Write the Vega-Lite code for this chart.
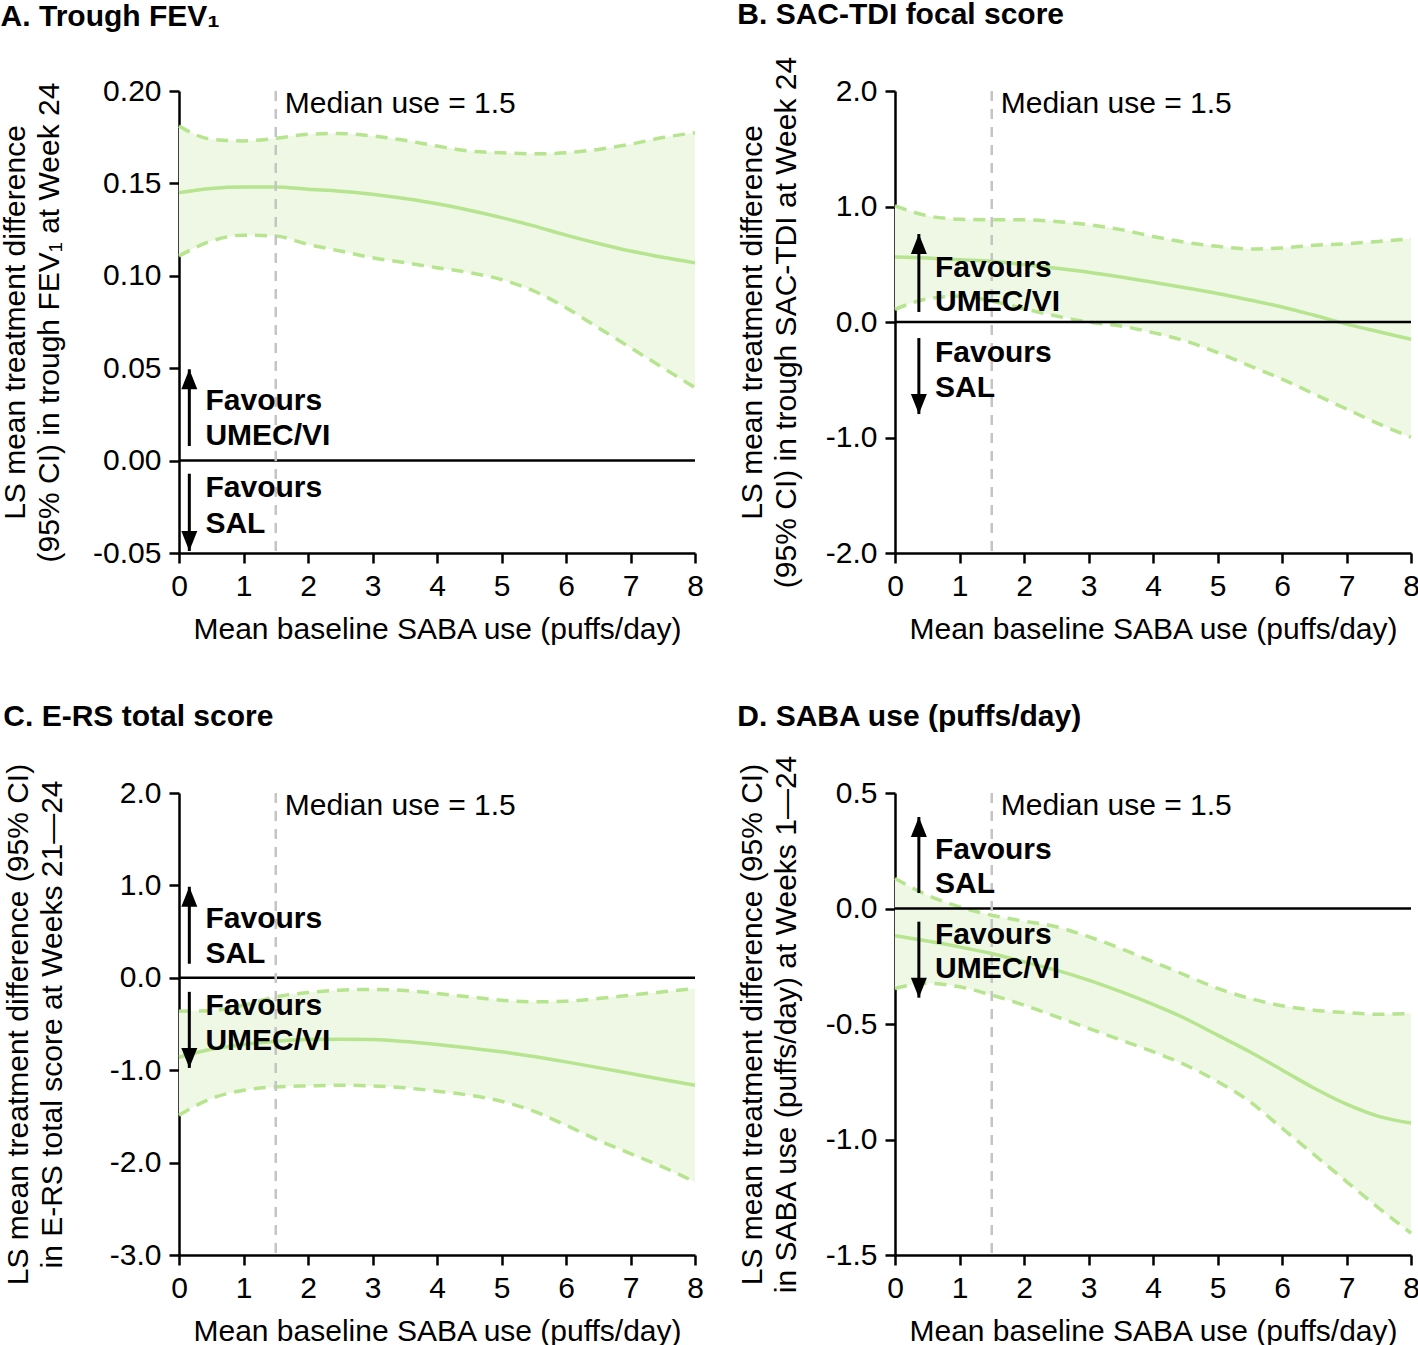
{
  "$schema": "https://vega.github.io/schema/vega-lite/v6.json",
  "padding": {"left": 0, "top": 0, "right": 0, "bottom": 0},
  "background": "white",
  "config": {
    "font": "Liberation Sans",
    "view": {"stroke": null},
    "title": {"anchor": "start", "frame": "bounds", "fontSize": 30, "font": "Liberation Sans", "fontWeight": "bold", "color": "black", "offset": 40},
    "axis": {"labelFont": "Liberation Sans", "labelFontSize": 30, "labelColor": "black", "titleFont": "Liberation Sans", "titleFontSize": 30, "titleFontWeight": "normal", "titleColor": "black", "domainColor": "black", "domainWidth": 2.5, "tickColor": "black", "tickWidth": 2.5, "tickSize": 10, "grid": false, "labelPadding": 8, "labelFlush": false, "labelOverlap": false},
    "axisX": {"titlePadding": 13, "format": "d"},
    "axisY": {"titlePadding": 28, "titleLineHeight": 34},
    "text": {"font": "Liberation Sans", "fontSize": 30, "color": "black"}
  },
  "datasets": {
    "curveA": [
      {"x": 0, "mean": 0.145, "lo": 0.1107, "hi": 0.181},
      {"x": 0.5, "mean": 0.1472, "lo": 0.1188, "hi": 0.1739},
      {"x": 1, "mean": 0.148, "lo": 0.122, "hi": 0.173},
      {"x": 1.5, "mean": 0.148, "lo": 0.1215, "hi": 0.1744},
      {"x": 2, "mean": 0.1468, "lo": 0.117, "hi": 0.1766},
      {"x": 2.5, "mean": 0.1458, "lo": 0.1134, "hi": 0.177},
      {"x": 3, "mean": 0.1441, "lo": 0.1098, "hi": 0.1757},
      {"x": 3.5, "mean": 0.1418, "lo": 0.1071, "hi": 0.1733},
      {"x": 4, "mean": 0.139, "lo": 0.1044, "hi": 0.1702},
      {"x": 4.5, "mean": 0.1355, "lo": 0.1017, "hi": 0.1675},
      {"x": 5, "mean": 0.1315, "lo": 0.098, "hi": 0.1666},
      {"x": 5.5, "mean": 0.127, "lo": 0.0918, "hi": 0.166},
      {"x": 6, "mean": 0.122, "lo": 0.0827, "hi": 0.1666},
      {"x": 6.5, "mean": 0.1175, "lo": 0.0719, "hi": 0.1684},
      {"x": 7, "mean": 0.1134, "lo": 0.0611, "hi": 0.1712},
      {"x": 7.5, "mean": 0.11, "lo": 0.0503, "hi": 0.1748},
      {"x": 8, "mean": 0.107, "lo": 0.0395, "hi": 0.1774}
    ],
    "curveB": [
      {"x": 0, "mean": 0.563, "lo": 0.109, "hi": 1.006},
      {"x": 0.5, "mean": 0.555, "lo": 0.2, "hi": 0.92},
      {"x": 1, "mean": 0.54, "lo": 0.224, "hi": 0.89},
      {"x": 1.5, "mean": 0.526, "lo": 0.181, "hi": 0.885},
      {"x": 2, "mean": 0.497, "lo": 0.115, "hi": 0.885},
      {"x": 2.5, "mean": 0.465, "lo": 0.052, "hi": 0.87},
      {"x": 3, "mean": 0.431, "lo": 0.0, "hi": 0.842},
      {"x": 3.5, "mean": 0.39, "lo": -0.034, "hi": 0.8},
      {"x": 4, "mean": 0.345, "lo": -0.092, "hi": 0.741},
      {"x": 4.5, "mean": 0.297, "lo": -0.164, "hi": 0.69},
      {"x": 5, "mean": 0.247, "lo": -0.264, "hi": 0.655},
      {"x": 5.5, "mean": 0.19, "lo": -0.379, "hi": 0.632},
      {"x": 6, "mean": 0.13, "lo": -0.494, "hi": 0.641},
      {"x": 6.5, "mean": 0.058, "lo": -0.624, "hi": 0.664},
      {"x": 7, "mean": -0.018, "lo": -0.753, "hi": 0.678},
      {"x": 7.5, "mean": -0.084, "lo": -0.882, "hi": 0.698},
      {"x": 8, "mean": -0.149, "lo": -0.997, "hi": 0.721}
    ],
    "curveC": [
      {"x": 0, "mean": -0.86, "lo": -1.487, "hi": -0.361},
      {"x": 0.5, "mean": -0.773, "lo": -1.307, "hi": -0.356},
      {"x": 1, "mean": -0.722, "lo": -1.217, "hi": -0.296},
      {"x": 1.5, "mean": -0.686, "lo": -1.181, "hi": -0.206},
      {"x": 2, "mean": -0.668, "lo": -1.17, "hi": -0.159},
      {"x": 2.5, "mean": -0.664, "lo": -1.162, "hi": -0.134},
      {"x": 3, "mean": -0.668, "lo": -1.17, "hi": -0.126},
      {"x": 3.5, "mean": -0.69, "lo": -1.191, "hi": -0.137},
      {"x": 4, "mean": -0.722, "lo": -1.227, "hi": -0.17},
      {"x": 4.5, "mean": -0.76, "lo": -1.271, "hi": -0.206},
      {"x": 5, "mean": -0.801, "lo": -1.336, "hi": -0.242},
      {"x": 5.5, "mean": -0.852, "lo": -1.444, "hi": -0.26},
      {"x": 6, "mean": -0.91, "lo": -1.596, "hi": -0.253},
      {"x": 6.5, "mean": -0.972, "lo": -1.758, "hi": -0.224},
      {"x": 7, "mean": -1.036, "lo": -1.903, "hi": -0.188},
      {"x": 7.5, "mean": -1.1, "lo": -2.047, "hi": -0.152},
      {"x": 8, "mean": -1.162, "lo": -2.209, "hi": -0.116}
    ],
    "curveD": [
      {"x": 0, "mean": -0.118, "lo": -0.346, "hi": 0.13},
      {"x": 0.5, "mean": -0.141, "lo": -0.324, "hi": 0.058},
      {"x": 1, "mean": -0.166, "lo": -0.339, "hi": 0.007},
      {"x": 1.5, "mean": -0.195, "lo": -0.375, "hi": -0.029},
      {"x": 2, "mean": -0.231, "lo": -0.418, "hi": -0.055},
      {"x": 2.5, "mean": -0.267, "lo": -0.468, "hi": -0.079},
      {"x": 3, "mean": -0.31, "lo": -0.519, "hi": -0.122},
      {"x": 3.5, "mean": -0.36, "lo": -0.569, "hi": -0.173},
      {"x": 4, "mean": -0.415, "lo": -0.62, "hi": -0.231},
      {"x": 4.5, "mean": -0.476, "lo": -0.677, "hi": -0.288},
      {"x": 5, "mean": -0.548, "lo": -0.749, "hi": -0.346},
      {"x": 5.5, "mean": -0.62, "lo": -0.836, "hi": -0.389},
      {"x": 6, "mean": -0.699, "lo": -0.951, "hi": -0.421},
      {"x": 6.5, "mean": -0.778, "lo": -1.066, "hi": -0.44},
      {"x": 7, "mean": -0.847, "lo": -1.182, "hi": -0.451},
      {"x": 7.5, "mean": -0.9, "lo": -1.297, "hi": -0.458},
      {"x": 8, "mean": -0.929, "lo": -1.405, "hi": -0.454}
    ],
    "arrA": [
      {"ax": 0.16, "y1": 0.0079, "y2": 0.0494, "dir": "up"},
      {"ax": 0.16, "y1": -0.0071, "y2": -0.0489, "dir": "down"}
    ],
    "arrB": [
      {"ax": 0.37, "y1": 0.087, "y2": 0.762, "dir": "up"},
      {"ax": 0.37, "y1": -0.139, "y2": -0.797, "dir": "down"}
    ],
    "arrC": [
      {"ax": 0.16, "y1": 0.152, "y2": 0.985, "dir": "up"},
      {"ax": 0.16, "y1": -0.152, "y2": -0.975, "dir": "down"}
    ],
    "arrD": [
      {"ax": 0.37, "y1": 0.067, "y2": 0.396, "dir": "up"},
      {"ax": 0.37, "y1": -0.057, "y2": -0.386, "dir": "down"}
    ],
    "txtA": [
      {"tx": 0.41, "ty": 0.0323, "label": "Favours"},
      {"tx": 0.41, "ty": 0.0133, "label": "UMEC/VI"},
      {"tx": 0.41, "ty": -0.0147, "label": "Favours"},
      {"tx": 0.41, "ty": -0.0341, "label": "SAL"}
    ],
    "txtB": [
      {"tx": 0.62, "ty": 0.468, "label": "Favours"},
      {"tx": 0.62, "ty": 0.173, "label": "UMEC/VI"},
      {"tx": 0.62, "ty": -0.268, "label": "Favours"},
      {"tx": 0.62, "ty": -0.571, "label": "SAL"}
    ],
    "txtC": [
      {"tx": 0.41, "ty": 0.636, "label": "Favours"},
      {"tx": 0.41, "ty": 0.258, "label": "SAL"},
      {"tx": 0.41, "ty": -0.305, "label": "Favours"},
      {"tx": 0.41, "ty": -0.684, "label": "UMEC/VI"}
    ],
    "txtD": [
      {"tx": 0.62, "ty": 0.253, "label": "Favours"},
      {"tx": 0.62, "ty": 0.106, "label": "SAL"},
      {"tx": 0.62, "ty": -0.115, "label": "Favours"},
      {"tx": 0.62, "ty": -0.263, "label": "UMEC/VI"}
    ]
  },
  "columns": 2,
  "spacing": {"row": 240, "column": 200},
  "bounds": "flush",
  "concat": [
    {
      "width": 516, "height": 462,
      "title": {"text": "A. Trough FEV₁", "dy": -4},
      "layer": [
        {"data": {"name": "curveA"}, "mark": {"type": "area", "color": "#eef8e5", "interpolate": "monotone"},
         "encoding": {
           "x": {"field": "x", "type": "quantitative", "scale": {"domain": [0, 8], "nice": false}, "axis": {"values": [0,1,2,3,4,5,6,7,8], "title": "Mean baseline SABA use (puffs/day)"}},
           "y": {"field": "lo", "type": "quantitative", "scale": {"domain": [-0.05, 0.2], "nice": false, "zero": false}, "axis": {"values": [-0.05, 0, 0.05, 0.1, 0.15, 0.2], "format": ".2f", "labelExpr": "replace(datum.label, '−', '-')", "titlePadding": 28, "title": ["LS mean treatment difference", "(95% CI) in trough FEV₁ at Week 24"]}},
           "y2": {"field": "hi"}}},
        {"data": {"name": "curveA"}, "mark": {"type": "line", "color": "#b6e48f", "strokeWidth": 3.5, "strokeDash": [12, 8], "interpolate": "monotone"},
         "encoding": {"x": {"field": "x", "type": "quantitative"}, "y": {"field": "lo", "type": "quantitative"}}},
        {"data": {"name": "curveA"}, "mark": {"type": "line", "color": "#b6e48f", "strokeWidth": 3.5, "strokeDash": [12, 8], "interpolate": "monotone"},
         "encoding": {"x": {"field": "x", "type": "quantitative"}, "y": {"field": "hi", "type": "quantitative"}}},
        {"data": {"name": "curveA"}, "mark": {"type": "line", "color": "#b6e48f", "strokeWidth": 3.5, "interpolate": "monotone"},
         "encoding": {"x": {"field": "x", "type": "quantitative"}, "y": {"field": "mean", "type": "quantitative"}}},
        {"data": {"values": [{}]}, "mark": {"type": "rule", "color": "black", "strokeWidth": 2.5}, "encoding": {"y": {"datum": 0}}},
        {"data": {"values": [{}]}, "mark": {"type": "rule", "color": "#c4c4c4", "strokeWidth": 2.5, "strokeDash": [10, 8]}, "encoding": {"x": {"datum": 1.5}}},
        {"data": {"values": [{}]}, "mark": {"type": "text", "align": "left", "baseline": "middle", "dx": 9, "dy": 13}, "encoding": {"x": {"datum": 1.5}, "y": {"datum": 0.2}, "text": {"value": "Median use = 1.5"}}},
        {"data": {"name": "arrA"}, "mark": {"type": "rule", "color": "black", "strokeWidth": 3}, "encoding": {"x": {"field": "ax", "type": "quantitative"}, "y": {"field": "y1", "type": "quantitative"}, "y2": {"field": "y2"}}},
        {"data": {"name": "arrA"}, "mark": {"type": "point", "filled": true, "opacity": 1, "color": "black", "size": 400},
         "encoding": {"x": {"field": "ax", "type": "quantitative"}, "y": {"field": "y2", "type": "quantitative"}, "shape": {"field": "dir", "type": "nominal", "scale": {"domain": ["up", "down"], "range": ["M-0.8,2L0.8,2L0,0Z", "M-0.8,-2L0.8,-2L0,0Z"]}, "legend": null}}},
        {"data": {"name": "txtA"}, "mark": {"type": "text", "align": "left", "baseline": "middle", "fontWeight": "bold"},
         "encoding": {"x": {"field": "tx", "type": "quantitative"}, "y": {"field": "ty", "type": "quantitative"}, "text": {"field": "label"}}}
      ]
    },
    {
      "width": 516, "height": 462,
      "title": {"text": "B. SAC-TDI focal score", "dy": 14},
      "layer": [
        {"data": {"name": "curveB"}, "mark": {"type": "area", "color": "#eef8e5", "interpolate": "monotone"},
         "encoding": {
           "x": {"field": "x", "type": "quantitative", "scale": {"domain": [0, 8], "nice": false}, "axis": {"values": [0,1,2,3,4,5,6,7,8], "title": "Mean baseline SABA use (puffs/day)"}},
           "y": {"field": "lo", "type": "quantitative", "scale": {"domain": [-2, 2], "nice": false, "zero": false}, "axis": {"values": [-2, -1, 0, 1, 2], "format": ".1f", "labelExpr": "replace(datum.label, '−', '-')", "titlePadding": 24, "title": ["LS mean treatment difference", "(95% CI) in trough SAC-TDI at Week 24"]}},
           "y2": {"field": "hi"}}},
        {"data": {"name": "curveB"}, "mark": {"type": "line", "color": "#b6e48f", "strokeWidth": 3.5, "strokeDash": [12, 8], "interpolate": "monotone"},
         "encoding": {"x": {"field": "x", "type": "quantitative"}, "y": {"field": "lo", "type": "quantitative"}}},
        {"data": {"name": "curveB"}, "mark": {"type": "line", "color": "#b6e48f", "strokeWidth": 3.5, "strokeDash": [12, 8], "interpolate": "monotone"},
         "encoding": {"x": {"field": "x", "type": "quantitative"}, "y": {"field": "hi", "type": "quantitative"}}},
        {"data": {"name": "curveB"}, "mark": {"type": "line", "color": "#b6e48f", "strokeWidth": 3.5, "interpolate": "monotone"},
         "encoding": {"x": {"field": "x", "type": "quantitative"}, "y": {"field": "mean", "type": "quantitative"}}},
        {"data": {"values": [{}]}, "mark": {"type": "rule", "color": "black", "strokeWidth": 2.5}, "encoding": {"y": {"datum": 0}}},
        {"data": {"values": [{}]}, "mark": {"type": "rule", "color": "#c4c4c4", "strokeWidth": 2.5, "strokeDash": [10, 8]}, "encoding": {"x": {"datum": 1.5}}},
        {"data": {"values": [{}]}, "mark": {"type": "text", "align": "left", "baseline": "middle", "dx": 9, "dy": 13}, "encoding": {"x": {"datum": 1.5}, "y": {"datum": 2}, "text": {"value": "Median use = 1.5"}}},
        {"data": {"name": "arrB"}, "mark": {"type": "rule", "color": "black", "strokeWidth": 3}, "encoding": {"x": {"field": "ax", "type": "quantitative"}, "y": {"field": "y1", "type": "quantitative"}, "y2": {"field": "y2"}}},
        {"data": {"name": "arrB"}, "mark": {"type": "point", "filled": true, "opacity": 1, "color": "black", "size": 400},
         "encoding": {"x": {"field": "ax", "type": "quantitative"}, "y": {"field": "y2", "type": "quantitative"}, "shape": {"field": "dir", "type": "nominal", "scale": {"domain": ["up", "down"], "range": ["M-0.8,2L0.8,2L0,0Z", "M-0.8,-2L0.8,-2L0,0Z"]}, "legend": null}}},
        {"data": {"name": "txtB"}, "mark": {"type": "text", "align": "left", "baseline": "middle", "fontWeight": "bold"},
         "encoding": {"x": {"field": "tx", "type": "quantitative"}, "y": {"field": "ty", "type": "quantitative"}, "text": {"field": "label"}}}
      ]
    },
    {
      "width": 516, "height": 462,
      "title": {"text": "C. E-RS total score", "dy": 9},
      "layer": [
        {"data": {"name": "curveC"}, "mark": {"type": "area", "color": "#eef8e5", "interpolate": "monotone"},
         "encoding": {
           "x": {"field": "x", "type": "quantitative", "scale": {"domain": [0, 8], "nice": false}, "axis": {"values": [0,1,2,3,4,5,6,7,8], "title": "Mean baseline SABA use (puffs/day)"}},
           "y": {"field": "lo", "type": "quantitative", "scale": {"domain": [-3, 2], "nice": false, "zero": false}, "axis": {"values": [-3, -2, -1, 0, 1, 2], "format": ".1f", "labelExpr": "replace(datum.label, '−', '-')", "titlePadding": 42, "title": ["LS mean treatment difference (95% CI)", "in E-RS total score at Weeks 21—24"]}},
           "y2": {"field": "hi"}}},
        {"data": {"name": "curveC"}, "mark": {"type": "line", "color": "#b6e48f", "strokeWidth": 3.5, "strokeDash": [12, 8], "interpolate": "monotone"},
         "encoding": {"x": {"field": "x", "type": "quantitative"}, "y": {"field": "lo", "type": "quantitative"}}},
        {"data": {"name": "curveC"}, "mark": {"type": "line", "color": "#b6e48f", "strokeWidth": 3.5, "strokeDash": [12, 8], "interpolate": "monotone"},
         "encoding": {"x": {"field": "x", "type": "quantitative"}, "y": {"field": "hi", "type": "quantitative"}}},
        {"data": {"name": "curveC"}, "mark": {"type": "line", "color": "#b6e48f", "strokeWidth": 3.5, "interpolate": "monotone"},
         "encoding": {"x": {"field": "x", "type": "quantitative"}, "y": {"field": "mean", "type": "quantitative"}}},
        {"data": {"values": [{}]}, "mark": {"type": "rule", "color": "black", "strokeWidth": 2.5}, "encoding": {"y": {"datum": 0}}},
        {"data": {"values": [{}]}, "mark": {"type": "rule", "color": "#c4c4c4", "strokeWidth": 2.5, "strokeDash": [10, 8]}, "encoding": {"x": {"datum": 1.5}}},
        {"data": {"values": [{}]}, "mark": {"type": "text", "align": "left", "baseline": "middle", "dx": 9, "dy": 13}, "encoding": {"x": {"datum": 1.5}, "y": {"datum": 2}, "text": {"value": "Median use = 1.5"}}},
        {"data": {"name": "arrC"}, "mark": {"type": "rule", "color": "black", "strokeWidth": 3}, "encoding": {"x": {"field": "ax", "type": "quantitative"}, "y": {"field": "y1", "type": "quantitative"}, "y2": {"field": "y2"}}},
        {"data": {"name": "arrC"}, "mark": {"type": "point", "filled": true, "opacity": 1, "color": "black", "size": 400},
         "encoding": {"x": {"field": "ax", "type": "quantitative"}, "y": {"field": "y2", "type": "quantitative"}, "shape": {"field": "dir", "type": "nominal", "scale": {"domain": ["up", "down"], "range": ["M-0.8,2L0.8,2L0,0Z", "M-0.8,-2L0.8,-2L0,0Z"]}, "legend": null}}},
        {"data": {"name": "txtC"}, "mark": {"type": "text", "align": "left", "baseline": "middle", "fontWeight": "bold"},
         "encoding": {"x": {"field": "tx", "type": "quantitative"}, "y": {"field": "ty", "type": "quantitative"}, "text": {"field": "label"}}}
      ]
    },
    {
      "width": 516, "height": 462,
      "title": {"text": "D. SABA use (puffs/day)", "dy": 18},
      "layer": [
        {"data": {"name": "curveD"}, "mark": {"type": "area", "color": "#eef8e5", "interpolate": "monotone"},
         "encoding": {
           "x": {"field": "x", "type": "quantitative", "scale": {"domain": [0, 8], "nice": false}, "axis": {"values": [0,1,2,3,4,5,6,7,8], "title": "Mean baseline SABA use (puffs/day)"}},
           "y": {"field": "lo", "type": "quantitative", "scale": {"domain": [-1.5, 0.5], "nice": false, "zero": false}, "axis": {"values": [-1.5, -1, -0.5, 0, 0.5], "format": ".1f", "labelExpr": "replace(datum.label, '−', '-')", "titlePadding": 24, "title": ["LS mean treatment difference (95% CI)", "in SABA use (puffs/day) at Weeks 1—24"]}},
           "y2": {"field": "hi"}}},
        {"data": {"name": "curveD"}, "mark": {"type": "line", "color": "#b6e48f", "strokeWidth": 3.5, "strokeDash": [12, 8], "interpolate": "monotone"},
         "encoding": {"x": {"field": "x", "type": "quantitative"}, "y": {"field": "lo", "type": "quantitative"}}},
        {"data": {"name": "curveD"}, "mark": {"type": "line", "color": "#b6e48f", "strokeWidth": 3.5, "strokeDash": [12, 8], "interpolate": "monotone"},
         "encoding": {"x": {"field": "x", "type": "quantitative"}, "y": {"field": "hi", "type": "quantitative"}}},
        {"data": {"name": "curveD"}, "mark": {"type": "line", "color": "#b6e48f", "strokeWidth": 3.5, "interpolate": "monotone"},
         "encoding": {"x": {"field": "x", "type": "quantitative"}, "y": {"field": "mean", "type": "quantitative"}}},
        {"data": {"values": [{}]}, "mark": {"type": "rule", "color": "black", "strokeWidth": 2.5}, "encoding": {"y": {"datum": 0}}},
        {"data": {"values": [{}]}, "mark": {"type": "rule", "color": "#c4c4c4", "strokeWidth": 2.5, "strokeDash": [10, 8]}, "encoding": {"x": {"datum": 1.5}}},
        {"data": {"values": [{}]}, "mark": {"type": "text", "align": "left", "baseline": "middle", "dx": 9, "dy": 13}, "encoding": {"x": {"datum": 1.5}, "y": {"datum": 0.5}, "text": {"value": "Median use = 1.5"}}},
        {"data": {"name": "arrD"}, "mark": {"type": "rule", "color": "black", "strokeWidth": 3}, "encoding": {"x": {"field": "ax", "type": "quantitative"}, "y": {"field": "y1", "type": "quantitative"}, "y2": {"field": "y2"}}},
        {"data": {"name": "arrD"}, "mark": {"type": "point", "filled": true, "opacity": 1, "color": "black", "size": 400},
         "encoding": {"x": {"field": "ax", "type": "quantitative"}, "y": {"field": "y2", "type": "quantitative"}, "shape": {"field": "dir", "type": "nominal", "scale": {"domain": ["up", "down"], "range": ["M-0.8,2L0.8,2L0,0Z", "M-0.8,-2L0.8,-2L0,0Z"]}, "legend": null}}},
        {"data": {"name": "txtD"}, "mark": {"type": "text", "align": "left", "baseline": "middle", "fontWeight": "bold"},
         "encoding": {"x": {"field": "tx", "type": "quantitative"}, "y": {"field": "ty", "type": "quantitative"}, "text": {"field": "label"}}}
      ]
    }
  ]
}
